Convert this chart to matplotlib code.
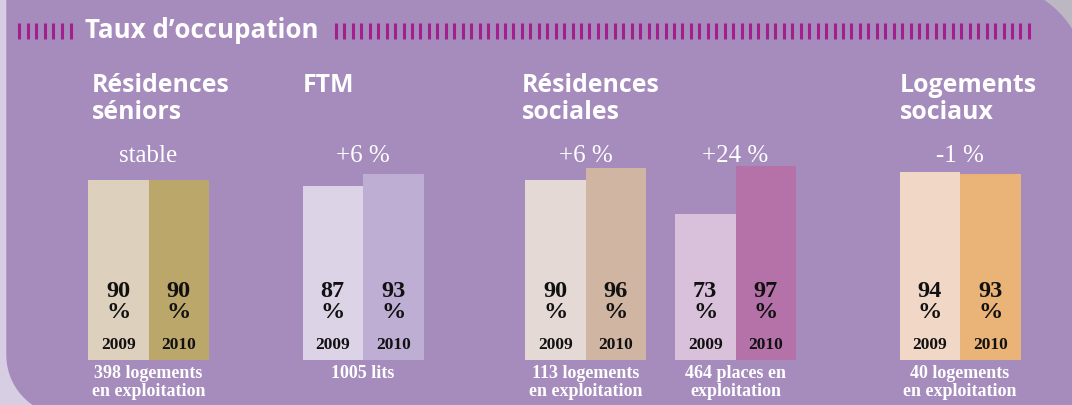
import numpy as np
import matplotlib
matplotlib.use("Agg")
import matplotlib.pyplot as plt
from matplotlib.patches import Polygon

# data
title = "Taux d\u2019occupation"
headings = ["Résidences\nséniors", "FTM", "Résidences\nsociales", "Logements\nsociaux"]
changes = ["stable", "+6 %", "+6 %", "+24 %", "-1 %"]
years = ["2009", "2010"]
v2009 = [90, 87, 90, 73, 94]
v2010 = [90, 93, 96, 97, 93]
capacity = ["398 logements\nen exploitation", "1005 lits", "113 logements\nen exploitation",
            "464 places en\nexploitation", "40 logements\nen exploitation"]

# layout (pixels)
W, H = 1072, 405
centers = np.array([148.5, 363, 585.5, 735.5, 960])
bar_w = 60.5
heading_x = [92, 303, 522, 900]
colors_2009 = ["#DDD0BC", "#DCD3E6", "#E5D9D6", "#D9C1DC", "#F0D7C6"]
colors_2010 = ["#BBA76A", "#BFAED3", "#D1B5A3", "#B572A8", "#EAB378"]
purple = "#A68BBD"
sans = "Open Sans"
serif = "Liberation Serif"

fig = plt.figure(figsize=(W / 100, H / 100), dpi=100, facecolor="#D8CEE3")

# background panel, rounded top-right and bottom-left corners
bg = fig.add_axes([0, 0, 1, 1], zorder=0)
bg.set_xlim(0, W)
bg.set_ylim(H, 0)
bg.axis("off")
t = np.linspace(0, np.pi / 2, 40)
tr = np.column_stack([990 + 96 * np.sin(t), 80 - 96 * np.cos(t)])
bl = np.column_stack([67 - 60 * np.sin(t), 355 + 60 * np.cos(t)])
bg.add_patch(Polygon([[980, -30], [1090, -30], [1090, 100]], color="#BCB7C2"))
panel = np.vstack([[[7, -16]], tr, [[1086, 415]], bl])
bg.add_patch(Polygon(panel, closed=True, color=purple))

# bars
ax = fig.add_axes([0, 45 / H, 1, 200 / H], zorder=1)
ax.set_xlim(0, W)
ax.set_ylim(0, 100)
ax.axis("off")
ax.bar(centers - bar_w, v2009, width=bar_w, align="edge", color=colors_2009)
ax.bar(centers, v2010, width=bar_w, align="edge", color=colors_2010)

# text layer
tx = fig.add_axes([0, 0, 1, 1], zorder=2)
tx.set_xlim(0, W)
tx.set_ylim(H, 0)
tx.axis("off")

tx.vlines(np.arange(19, 71, 8.6), 23, 39, color="#A3208C", lw=2.2)
tx.vlines(np.arange(336, 1030, 8.45), 23, 39, color="#A3208C", lw=2.2)
tx.text(85, 38, title, family=sans, weight="bold", fontsize=18.6, color="white", va="baseline")

for x, h in zip(heading_x, headings):
    for i, line in enumerate(h.split("\n")):
        tx.text(x, 92 + 27 * i, line, family=sans, weight="bold", fontsize=17.9,
                color="white", va="baseline")

for c, ch, a, b, cap in zip(centers, changes, v2009, v2010, capacity):
    tx.text(c, 162, ch, family=serif, fontsize=18, color="white", ha="center", va="baseline")
    for xx, v, yr in [(c - bar_w / 2, a, years[0]), (c + bar_w / 2, b, years[1])]:
        tx.text(xx, 297, str(v), family=serif, weight="bold", fontsize=17.5,
                color="#111111", ha="center", va="baseline")
        tx.text(xx, 318, "%", family=serif, weight="bold", fontsize=17.5, color="#111111",
                ha="center", va="baseline")
        tx.text(xx, 349, yr, family=serif, weight="bold", fontsize=12.5,
                color="#111111", ha="center", va="baseline")
    for i, line in enumerate(cap.split("\n")):
        tx.text(c, 378 + 18 * i, line, family=serif, weight="bold", fontsize=13,
                color="white", ha="center", va="baseline")

fig.savefig("out.png", dpi=100, facecolor=fig.get_facecolor())
